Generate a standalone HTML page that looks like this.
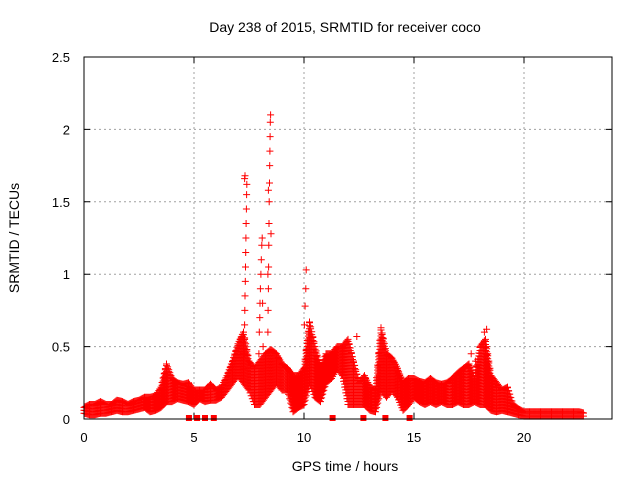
<!DOCTYPE html>
<html><head><meta charset="utf-8"><style>
body{margin:0;background:#fff}
svg{display:block;font-family:"Liberation Sans",sans-serif}
</style></head><body>
<svg id="chart" width="640" height="480" viewBox="0 0 640 480" xmlns="http://www.w3.org/2000/svg">
<text x="345" y="32" font-size="14" text-anchor="middle">Day 238 of 2015, SRMTID for receiver coco</text>
<text x="345" y="471" font-size="14" text-anchor="middle">GPS time / hours</text>
<text transform="translate(19,238) rotate(-90)" font-size="14" text-anchor="middle">SRMTID / TECUs</text>
<g id="grid"></g>
<g id="axes"></g>
<path id="band" fill="none" stroke="#ff0000" stroke-width="1"/>
<path id="spikes" fill="none" stroke="#ff0000" stroke-width="1"/>
<g id="zeros"></g>
<rect x="84" y="57" width="528" height="362" fill="none" stroke="#000" stroke-width="1"/>
</svg>
<script>
const xTicks=[0,5,10,15,20];
const yTicks=[0,0.5,1,1.5,2,2.5];
const yTickLabels=["0","0.5","1","1.5","2","2.5"];
const binStart=0, binWidth=0.25;
const binLow=[.04,.03,.03,.04,.04,.05,.06,.05,.05,.06,.07,.08,.05,.06,.08,.12,.12,.14,.13,.12,.1,.14,.12,.13,.13,.15,.2,.25,.3,.25,.2,.1,.1,.15,.2,.25,.2,.2,.05,.08,.1,.25,.15,.12,.25,.28,.35,.3,.1,.1,.1,.1,.06,.05,.2,.15,.2,.15,.06,.1,.15,.12,.1,.12,.1,.12,.1,.1,.12,.1,.1,.12,.1,.1,.06,.05,.06,.05,.04,.03,.02,.02,.02,.02,.02,.02,.02,.02,.02,.02,.02,.02];
const binHigh=[.08,.1,.1,.12,.1,.1,.13,.12,.1,.12,.13,.15,.15,.16,.22,.38,.28,.25,.24,.25,.2,.2,.2,.24,.2,.22,.3,.4,.52,.6,.4,.35,.4,.45,.48,.45,.38,.35,.3,.3,.35,.67,.5,.35,.45,.45,.5,.5,.55,.4,.25,.3,.22,.2,.63,.45,.42,.35,.25,.28,.28,.26,.25,.28,.25,.24,.25,.28,.32,.35,.38,.28,.5,.55,.3,.25,.2,.22,.1,.07,.05,.05,.05,.05,.05,.05,.05,.05,.05,.05,.05,.04];
const spikeX=[7.25,7.27,7.29,7.3,7.31,7.32,7.33,7.34,7.35,7.36,7.37,7.38,7.39,7.4,7.3,7.32,7.95,7.97,7.99,8.0,8.02,8.04,8.06,8.08,8.1,8.12,8.14,8.36,8.37,8.38,8.39,8.4,8.41,8.42,8.43,8.44,8.45,8.46,8.47,8.48,8.5,8.36,8.38,10.02,10.05,10.08,10.1,12.4,17.6,17.8,18.2,18.3];
const spikeY=[.35,.45,.55,.65,.75,.85,.95,1.05,1.15,1.25,1.35,1.45,1.55,1.62,1.66,1.68,.45,.6,.7,.8,.9,1.0,1.1,1.2,1.25,.8,.5,.6,.75,.9,1.05,1.2,1.35,1.5,1.63,1.75,1.85,1.95,2.05,2.1,1.28,1.0,1.58,.65,.78,.9,1.03,.57,.45,.4,.6,.62];
const zeroX=[4.77,5.14,5.5,5.9,11.3,12.7,13.7,14.8];

const X=h=>84+h*22, Y=v=>419-v*144.8;
const svg=document.getElementById('chart');
const NS='http://www.w3.org/2000/svg';
const grid=document.getElementById('grid'), axes=document.getElementById('axes');
function mk(tag,attrs,parent){const e=document.createElementNS(NS,tag);for(const k in attrs)e.setAttribute(k,attrs[k]);parent.appendChild(e);return e;}
xTicks.forEach(t=>{
  if(t>0){const l=mk('line',{x1:X(t),x2:X(t),y1:57,y2:419,stroke:'#a0a0a0','stroke-dasharray':'2,3'},grid);
  
  }
  const tk=mk('path',{d:`M${X(t)} 419v-6M${X(t)} 57v6`,stroke:'#000'},axes);
  
  
  const tx=mk('text',{x:X(t),y:442,'font-size':13,'text-anchor':'middle'},axes);tx.textContent=t;
  
  
});
yTicks.forEach((t,i)=>{
  if(t>0&&t<2.5){const l=mk('line',{x1:84,x2:612,y1:Y(t),y2:Y(t),stroke:'#a0a0a0','stroke-dasharray':'2,3'},grid);
  
  }
  const tk=mk('path',{d:`M84 ${Y(t)}h6M612 ${Y(t)}h-6`,stroke:'#000'},axes);
  
  
  const tx=mk('text',{x:70,y:Y(t)+5,'font-size':13,'text-anchor':'end'},axes);tx.textContent=yTickLabels[i];
  
  
});
const plus=(x,y)=>`M${(x-3.5).toFixed(1)} ${y.toFixed(1)}h7M${x.toFixed(1)} ${(y-3.5).toFixed(1)}v7`;
let d='';
const n=binLow.length;
for(let i=0;i<n-1;i++){
  for(let s=0;s<5;s++){
    const f=s/5, h=binStart+(i+f)*binWidth;
    const lo=binLow[i]+(binLow[i+1]-binLow[i])*f, hi=binHigh[i]+(binHigh[i+1]-binHigh[i])*f;
    const x=X(h), y0=Y(lo), y1=Y(hi);
    for(let y=y0;y>=y1;y-=3) d+=plus(x,y);
    d+=plus(x,y1);
  }
}
document.getElementById('band').setAttribute('d',d);
let ds='';
spikeX.forEach((h,i)=>{ds+=plus(X(h),Y(spikeY[i]));});
document.getElementById('spikes').setAttribute('d',ds);
const zg=document.getElementById('zeros');
zeroX.forEach(h=>{const r=mk('rect',{x:X(h)-3,y:415,width:6,height:6,fill:'#ff0000'},zg);
  
  });
</script>
</body></html>
